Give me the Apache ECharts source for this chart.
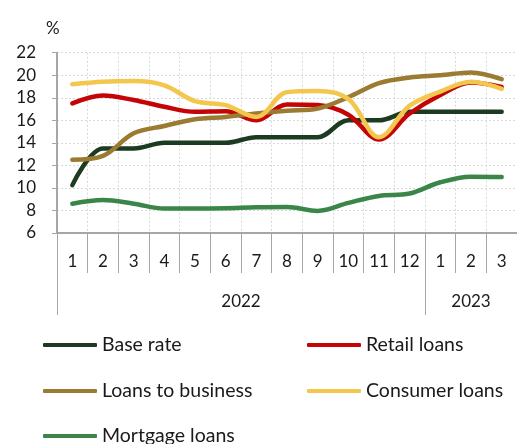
<!DOCTYPE html>
<html>
<head>
<meta charset="utf-8">
<script src="https://cdn.jsdelivr.net/npm/echarts@6/dist/echarts.min.js"></script>
<style>
  html, body { margin: 0; padding: 0; background: #fff; }
  #chart { width: 517px; height: 444px; }
</style>
</head>
<body>
<div id="chart"></div>
<script>
// Months, Jan 2022 – Mar 2023
const months = ['1','2','3','4','5','6','7','8','9','10','11','12','1','2','3'];
const yearLabels = { 6: '2022', 13.5: '2023' };

// Interest rates, %
const baseRate      = [10.25, 13.5, 13.5, 14, 14, 14, 14.5, 14.5, 14.5, 16, 16, 16.75, 16.75, 16.75, 16.75];
const retailLoans   = [17.5, 18.2, 17.8, 17.2, 16.75, 16.8, 16.0, 17.4, 17.35, 16.5, 14.3, 16.6, 18.25, 19.35, 18.95];
const businessLoans = [12.5, 12.85, 14.85, 15.5, 16.1, 16.3, 16.6, 16.85, 17.05, 18.05, 19.3, 19.8, 20.0, 20.25, 19.65];
const consumerLoans = [19.2, 19.42, 19.48, 19.1, 17.7, 17.35, 16.3, 18.5, 18.6, 17.9, 14.5, 17.3, 18.55, 19.42, 18.8];
const mortgageLoans = [8.6, 8.93, 8.6, 8.17, 8.17, 8.2, 8.28, 8.3, 7.96, 8.67, 9.29, 9.5, 10.5, 11.0, 10.97];

const FONT = 'Lato';
const TXT = '#1a1a1a';
const AXIS = '#a6a6a6';

const seriesDefs = [
  { name: 'Base rate',         data: baseRate,      color: '#1c3b21' },
  { name: 'Retail loans',      data: retailLoans,   color: '#c40405' },
  { name: 'Loans to business', data: businessLoans, color: '#9b7b32' },
  { name: 'Consumer loans',    data: consumerLoans, color: '#f3c64d' },
  { name: 'Mortgage loans',    data: mortgageLoans, color: '#3a8648' }
];

// legend placed in two columns
const legendPos = [
  { left: 43,  top: 334 },
  { left: 307, top: 334 },
  { left: 43,  top: 380 },
  { left: 307, top: 380 },
  { left: 43,  top: 425 }
];

const chart = echarts.init(document.getElementById('chart'), null, { renderer: 'canvas' });

chart.setOption({
  animation: false,
  backgroundColor: '#fff',
  title: {
    text: '%',
    left: 41,
    top: 15,
    textStyle: { fontFamily: FONT, fontSize: 17, fontWeight: 'normal', color: TXT }
  },
  legend: seriesDefs.map((s, i) => ({
    data: [s.name],
    left: legendPos[i].left,
    top: legendPos[i].top,
    padding: 0,
    icon: 'roundRect',
    itemWidth: 54,
    itemHeight: 4,
    textStyle: { fontFamily: FONT, fontSize: 19.5, color: TXT, lineHeight: 22 }
  })),
  grid: { left: 57, right: -5, top: 52.7, bottom: 211, containLabel: false },
  xAxis: [
    {
      type: 'category',
      data: months,
      boundaryGap: true,
      axisLine: { show: true, lineStyle: { color: AXIS, width: 2 } },
      axisTick: { show: true, length: 40, lineStyle: { color: AXIS, width: 1 } },
      axisLabel: { fontFamily: FONT, fontSize: 17, color: TXT, margin: 20 },
      splitLine: { show: true, lineStyle: { color: '#d9d9d9', type: [2, 2], width: 1 } }
    },
    {
      type: 'value',
      min: 0,
      max: 15,
      position: 'bottom',
      axisLine: { show: false },
      axisTick: { show: true, customValues: [0, 12], length: 82, lineStyle: { color: AXIS, width: 1 } },
      axisLabel: {
        customValues: [6, 13.5],
        formatter: v => yearLabels[v] || '',
        fontFamily: FONT, fontSize: 17, color: TXT, margin: 60
      },
      splitLine: { show: false }
    }
  ],
  yAxis: {
    type: 'value',
    min: 6,
    max: 22,
    interval: 2,
    axisLine: { show: true, lineStyle: { color: AXIS, width: 2 } },
    axisTick: { show: true, length: 5, lineStyle: { color: AXIS } },
    axisLabel: { fontFamily: FONT, fontSize: 17, color: TXT, margin: 21 },
    splitLine: { show: true, lineStyle: { color: '#d9d9d9', type: [2, 2], width: 1 } }
  },
  series: seriesDefs.map(s => ({
    name: s.name,
    type: 'line',
    xAxisIndex: 0,
    data: s.data,
    smooth: 0.35,
    symbol: 'none',
    color: s.color,
    lineStyle: { color: s.color, width: 4.5, cap: 'round', join: 'round' }
  }))
});
</script>
</body>
</html>
